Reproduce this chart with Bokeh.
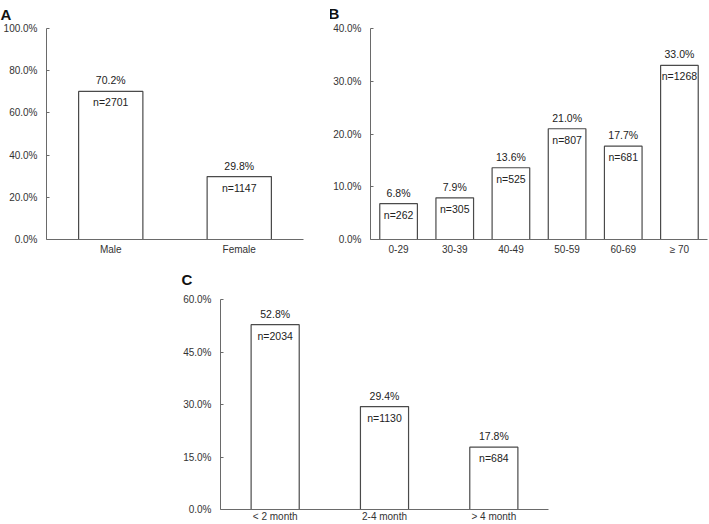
from bokeh.plotting import figure
from bokeh.models import FactorRange, Range1d, FixedTicker, PrintfTickFormatter, Spacer, ColumnDataSource
from bokeh.layouts import column, row
from bokeh.embed import file_html
from bokeh.resources import INLINE
from bokeh.core.properties import value

# ---- data ----
sex_cats = ["Male", "Female"]
sex_pct = [70.2, 29.8]
sex_n = [2701, 1147]

age_cats = ["0-29", "30-39", "40-49", "50-59", "60-69", "\u2265 70"]
age_pct = [6.8, 7.9, 13.6, 21.0, 17.7, 33.0]
age_n = [262, 305, 525, 807, 681, 1268]

dur_cats = ["< 2 month", "2-4 month", "> 4 month"]
dur_pct = [52.8, 29.4, 17.8]
dur_n = [2034, 1130, 684]

FONT = "Liberation Sans"
TITLE_FONT = "Liberation Sans"


def panel(cats, pct, n, ymax, step, bar_w, width, height, bl, br, bt, bb,
          letter, loff, tstand, xstand=4):
    p = figure(x_range=FactorRange(*cats), y_range=Range1d(0, ymax),
               width=width, height=height, output_backend="svg",
               toolbar_location=None, min_border_left=bl, min_border_right=br,
               min_border_top=bt, min_border_bottom=bb)
    p.outline_line_color = None
    p.xgrid.visible = False
    p.ygrid.visible = False
    p.background_fill_color = "white"
    p.border_fill_color = "white"
    p.title.text = letter
    p.title.align = "left"
    p.title.vertical_align = "top"
    p.title.offset = loff
    p.title.text_font = TITLE_FONT
    p.title.text_font_size = "15px"
    p.title.text_font_style = "bold"
    p.title.text_color = "#111111"
    p.title.standoff = tstand
    src = ColumnDataSource(dict(cat=cats, pct=pct,
                                plab=["%.1f%%" % v for v in pct],
                                nlab=["n=%d" % v for v in n]))
    p.vbar(x="cat", top="pct", width=bar_w, source=src, fill_color="white",
           line_color="#4a4a4a", line_width=1.2)
    p.text(x="cat", y="pct", text="plab", source=src, text_align="center",
           text_baseline="bottom", y_offset=-5, text_font=value(FONT),
           text_font_size="10.5px", text_color="#222222")
    p.text(x="cat", y="pct", text="nlab", source=src, text_align="center",
           text_baseline="top", y_offset=5, text_font=value(FONT),
           text_font_size="10.5px", text_color="#222222")
    ya = p.yaxis[0]
    ya.ticker = FixedTicker(ticks=[i * step for i in range(int(round(ymax / step)) + 1)])
    ya.formatter = PrintfTickFormatter(format="%.1f%%")
    ya.major_tick_in = 3
    ya.major_tick_out = 0
    ya.minor_tick_line_color = None
    ya.axis_line_color = "#6a6a6a"
    ya.major_tick_line_color = "#6a6a6a"
    ya.major_label_standoff = 9
    ya.major_label_text_font = FONT
    ya.major_label_text_font_size = "10px"
    ya.major_label_text_color = "#333333"
    xa = p.xaxis[0]
    xa.major_tick_in = 0
    xa.major_tick_out = 0
    xa.axis_line_color = "#6a6a6a"
    xa.major_label_standoff = xstand
    xa.major_label_text_font = FONT
    xa.major_label_text_font_size = "10px"
    xa.major_label_text_color = "#333333"
    return p


pa = panel(sex_cats, sex_pct, sex_n, 100, 20, 0.5, 330, 260, 43, 27, 26, 21,
           "A", -46, 7)
pb = panel(age_cats, age_pct, age_n, 40, 10, 0.67, 379, 260, 38, 2, 28, 21,
           "B", -42, 9)
pc = panel(dur_cats, dur_pct, dur_n, 60, 15, 0.44, 410, 264, 70, 12, 39, 14,
           "C", -39, 20, xstand=1)

layout = column(row(pa, pb), row(Spacer(width=150, height=264), pc))

open("out.html", "w").write(file_html(layout, INLINE))
